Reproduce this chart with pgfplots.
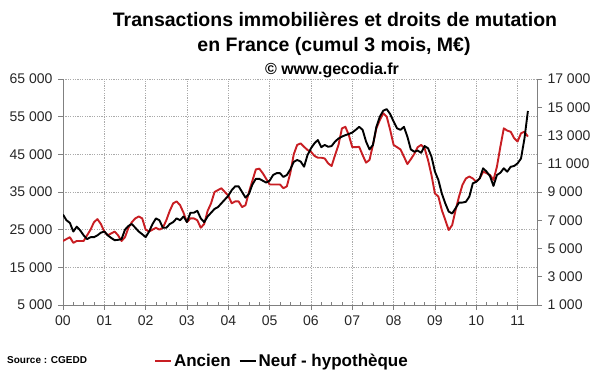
\documentclass[border=0pt]{standalone}
\usepackage{fontspec}
\setmainfont{Liberation Sans}
\usepackage{pgfplots}
\pgfplotsset{compat=1.18}
\usepackage{pgfplotstable}
\definecolor{ancien}{RGB}{200,30,35}
\definecolor{axgray}{RGB}{128,128,128}
\definecolor{gridgray}{RGB}{170,170,170}

\pgfplotstableread{
m v
0 22000
1 22500
2 23000
3 21500
4 22000
5 22000
6 22000
7 23500
8 25000
9 27000
10 27800
11 26500
12 24500
13 23500
14 24000
15 24500
16 23500
17 22000
18 23000
19 25500
20 27000
21 28000
22 28500
23 28000
24 25000
25 24500
26 25000
27 25500
28 25000
29 25500
30 27500
31 30000
32 32000
33 32500
34 31500
35 29500
36 27000
37 28000
38 28000
39 27500
40 25500
41 26500
42 30000
43 32000
44 35000
45 35500
46 36000
47 35000
48 34000
49 32000
50 32500
51 32500
52 31000
53 31500
54 35000
55 38000
56 41000
57 41200
58 40000
59 38500
60 37000
61 37000
62 37000
63 37000
64 36000
65 36500
66 40000
67 45000
68 47500
69 47900
70 47000
71 46150
72 45700
73 44600
74 44100
75 44100
76 43900
77 42600
78 41900
79 44800
80 47500
81 51900
82 52300
83 50100
84 46900
85 46900
86 47000
87 44800
88 42800
89 43500
90 47500
91 51900
92 54100
93 55900
94 55000
95 51500
96 47500
97 46900
98 46300
99 44400
100 42400
101 43700
102 45100
103 46900
104 47500
105 46600
106 43500
107 39500
108 34600
109 33800
110 30200
111 27600
112 24900
113 26200
114 30200
115 33800
116 36900
117 38600
118 39100
119 38600
120 37700
121 38600
122 40400
123 40000
124 39500
125 38200
126 41700
127 47000
128 51900
129 51300
130 51000
131 49300
132 48400
133 50600
134 51000
135 49700
}\ancien

\pgfplotstableread{
m v
0 7400
1 7000
2 6813
3 6200
4 6547
5 6280
6 5933
7 5667
8 5800
9 5800
10 5933
11 6120
12 6200
13 5933
14 5747
15 5587
16 5613
17 5667
18 6333
19 6600
20 6733
21 6467
22 6200
23 6013
24 5800
25 6200
26 6733
27 7133
28 7000
29 6467
30 6467
31 6733
32 6867
33 7133
34 7000
35 7267
36 6867
37 7533
38 7533
39 7667
40 7133
41 6867
42 7267
43 7533
44 7800
45 7933
46 8200
47 8467
48 8733
49 9133
50 9400
51 9400
52 9000
53 8600
54 8867
55 9533
56 9933
57 9933
58 9800
59 9667
60 9800
61 10200
62 10333
63 10333
64 10067
65 10200
66 10600
67 11133
68 11267
69 11160
70 10787
71 11613
72 12093
73 12440
74 12680
75 12173
76 12333
77 12200
78 12253
79 12573
80 12787
81 12920
82 13027
83 13107
84 13213
85 13400
86 13613
87 13400
88 12573
89 12013
90 12333
91 13613
92 14333
93 14760
94 14867
95 14520
96 13987
97 13507
98 13400
99 13613
100 12920
101 12013
102 11853
103 11933
104 11773
105 12253
106 12093
107 11507
108 10440
109 9853
110 8893
111 8200
112 7613
113 7480
114 7853
115 8253
116 8253
117 8307
118 8680
119 9613
120 9720
121 9960
122 10680
123 10440
124 10120
125 9430
126 10200
127 10360
128 10680
129 10440
130 10787
131 10840
132 11027
133 11373
134 12787
135 14733
}\neuf

\begin{document}
\begin{tikzpicture}
\path[use as bounding box] (0,0) rectangle (600pt,372pt);

\node[font=\bfseries\fontsize{19.5}{22}\selectfont, anchor=base] at (335pt,345pt) {Transactions immobilières et droits de mutation};
\node[font=\bfseries\fontsize{19.5}{22}\selectfont, anchor=base] at (334pt,320pt) {en France (cumul 3 mois, M€)};
\node[font=\bfseries\fontsize{16}{18}\selectfont, anchor=base] at (332pt,297pt) {© www.gecodia.fr};
\node[font=\bfseries\fontsize{10}{12}\selectfont, anchor=base west, inner sep=0pt] at (7pt,8pt) {Source : CGEDD};

\begin{axis}[
  at={(63pt,67pt)}, anchor=south west,
  scale only axis, width=474pt, height=226pt,
  xmin=0, xmax=11.47, ymin=5000, ymax=65000,
  scaled y ticks=false, scaled x ticks=false,
  axis x line*=bottom, axis y line*=left,
  axis line style={axgray, line width=0.8pt},
  xtick={0,...,11},
  xticklabels={00,01,02,03,04,05,06,07,08,09,10,11},
  minor x tick num=3,
  ytick={5000,15000,...,65000},
  yticklabels={5 000,15 000,25 000,35 000,45 000,55 000,65 000},
  tick label style={font=\fontsize{14}{16}\selectfont, text=black!85},
  tick align=outside,
  major tick length=5pt, minor tick length=2.5pt,
  tick style={axgray, line width=0.8pt},
  minor x tick style={yshift=2.5pt},
  xticklabel style={yshift=-2pt},
  yticklabel style={xshift=-2pt},
  grid=major,
  major grid style={draw=gridgray, line width=0.7pt, dash pattern=on 1.2pt off 1.2pt},
]
\addplot[ancien, line width=1.9pt, line join=round] table[x expr=\thisrow{m}/12, y=v] {\ancien};
\end{axis}

\begin{axis}[
  at={(63pt,67pt)}, anchor=south west,
  scale only axis, width=474pt, height=226pt,
  xmin=0, xmax=11.47, ymin=1000, ymax=17000,
  scaled y ticks=false,
  axis x line=none, axis y line*=right,
  axis line style={axgray, line width=0.8pt},
  ytick={1000,3000,...,17000},
  yticklabels={1 000,3 000,5 000,7 000,9 000,11 000,13 000,15 000,17 000},
  tick label style={font=\fontsize{14}{16}\selectfont, text=black!85},
  tick align=outside, major tick length=5pt,
  tick style={axgray, line width=0.8pt},
  yticklabel style={xshift=2pt},
  legend columns=2,
  legend style={at={(0.462,-0.248)}, anchor=center, draw=none, fill=none,
    font=\bfseries\fontsize{17}{19}\selectfont,
    /tikz/every even column/.append style={column sep=6pt}},
  legend image code/.code={\draw[#1] (0pt,0pt) -- (16pt,0pt);},
]
\addlegendimage{ancien, line width=1.9pt}
\addlegendentry{Ancien}
\addplot[black, line width=1.9pt, line join=round] table[x expr=\thisrow{m}/12, y=v] {\neuf};
\addlegendentry{Neuf - hypothèque}
\end{axis}
\end{tikzpicture}
\end{document}
